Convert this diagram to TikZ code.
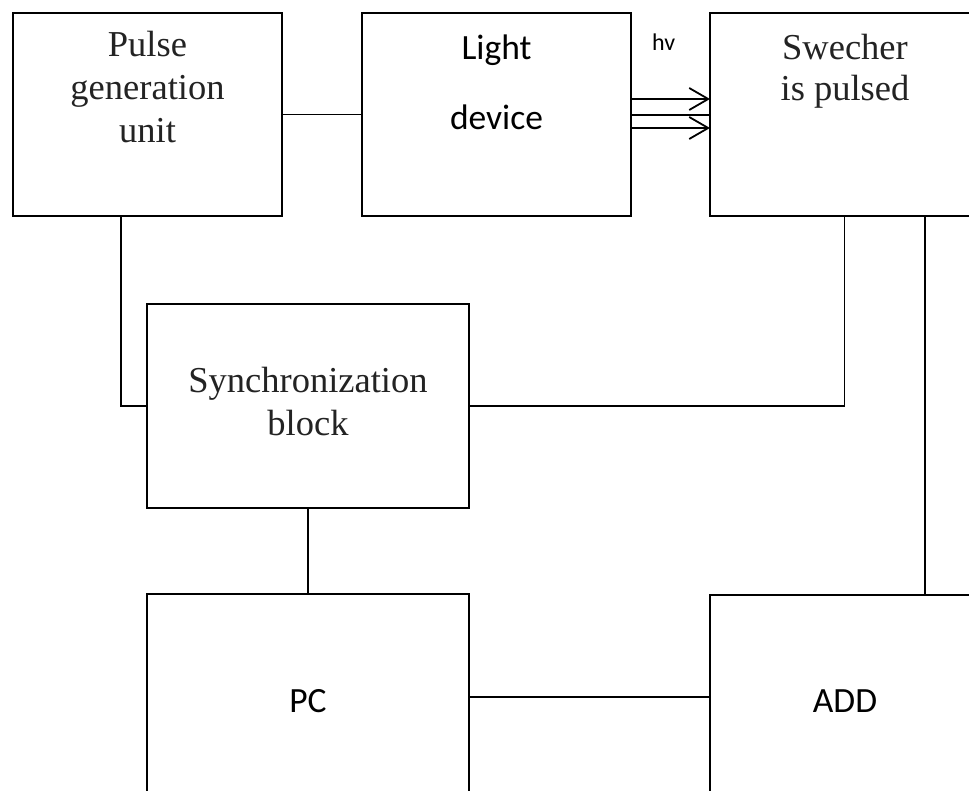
\documentclass[tikz,border=0pt]{standalone}
\usepackage{fontspec}
\setmainfont{Liberation Serif}
\newfontfamily\calfont{Carlito}
\usetikzlibrary{arrows.meta}
\definecolor{txt}{RGB}{35,35,35}
\begin{document}
\begin{tikzpicture}[x=1pt,y=-1pt,
  blockbox/.style={draw=black,line width=1.8pt,inner sep=0pt,outer sep=0pt,anchor=north west},
  conn/.style={draw=black,line width=1.8pt},
  sertext/.style={inner sep=0pt,anchor=base,text=txt,font=\fontsize{36.5}{43}\selectfont},
  caltext/.style={inner sep=0pt,anchor=base,text=black,font=\calfont\fontsize{35.5}{42}\selectfont},
  ray/.style={draw=black,line width=1.8pt,-{Straight Barb[length=19pt,width=22pt,line width=1.8pt]}}]
\useasboundingbox[fill=white] (0,0) rectangle (969,791);
\clip (0,0) rectangle (969,791);
% boxes
\node[blockbox,minimum width=269pt,minimum height=203pt] (pulse) at (13,13) {};
\node[blockbox,minimum width=269pt,minimum height=203pt] (light) at (362,13) {};
\node[blockbox,minimum width=269pt,minimum height=203pt] (swe) at (710,13) {};
\node[blockbox,minimum width=322pt,minimum height=204pt] (sync) at (147,304) {};
\node[blockbox,minimum width=322pt,minimum height=206pt] (pc) at (147,594) {};
\node[blockbox,minimum width=269pt,minimum height=204pt] (add) at (710,595) {};
% texts
\node[sertext] (t1) at (147.5,57) {Pulse};
\node[sertext] (t2) at (147.5,100) {generation};
\node[sertext] (t3) at (147.5,143) {unit};
\node[caltext] (t4) at (496.5,60) {Light};
\node[caltext] (t5) at (496.5,130) {device};
\node[inner sep=0pt,anchor=base west,font=\calfont\fontsize{24}{28}\selectfont] (hv) at (652,51) {hv};
\node[sertext] (t6) at (845,60) {Swecher};
\node[sertext] (t7) at (845,101) {is pulsed};
\node[sertext] (t8) at (308,392) {Synchronization};
\node[sertext] (t9) at (308,435) {block};
\node[caltext] (t10) at (308,712) {PC};
\node[caltext] (t11) at (845,712) {ADD};
% helper coordinates
\coordinate (xl) at (121,0);
\coordinate (xr) at (925,0);
\coordinate (y1) at (0,99);
\coordinate (y2) at (0,115);
\coordinate (y3) at (0,128);
% connectors
\draw[conn] (pulse.east) -- (light.west);
\draw[conn] (pulse.south -| xl) |- (sync.west);
\draw[conn] (sync.east) -| (swe.south);
\draw[conn] (swe.south -| xr) -- (add.north -| xr);
\draw[conn] (sync.south) -- (pc.north);
\draw[conn] (pc.east) -- (add.west);
\draw[ray] (light.east |- y1) -- (swe.west |- y1);
\draw[conn] (light.east |- y2) -- (swe.west |- y2);
\draw[ray] (light.east |- y3) -- (swe.west |- y3);
\end{tikzpicture}
\end{document}
